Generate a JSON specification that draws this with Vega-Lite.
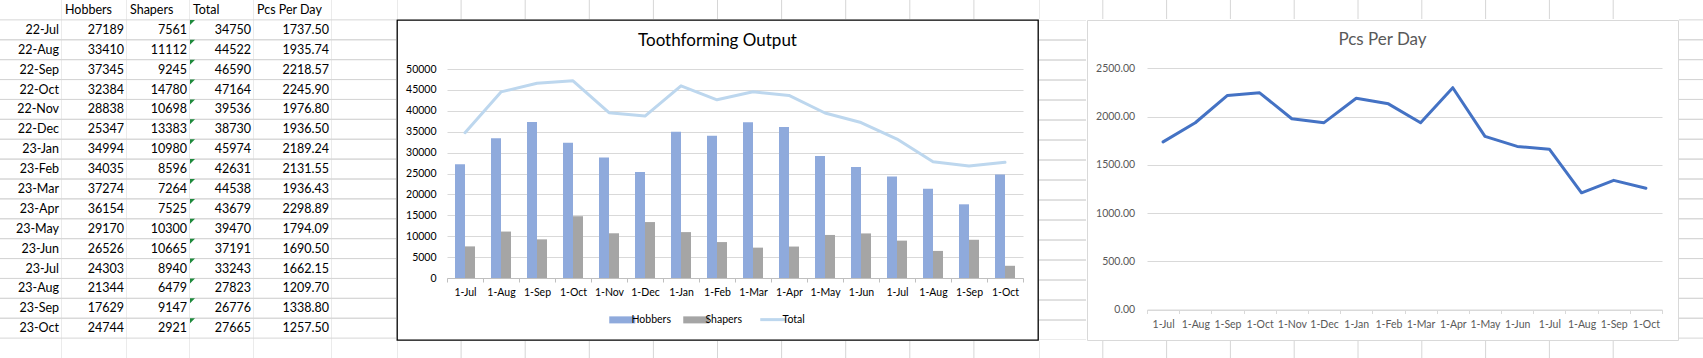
{
  "$schema": "https://vega.github.io/schema/vega-lite/v6.json",
  "padding": 0,
  "background": "#ffffff",
  "datasets": {
    "sheet": [
      {"Month": "22-Jul", "Hobbers": 27189, "Shapers": 7561, "Total": 34750, "PcsPerDay": 1737.50},
      {"Month": "22-Aug", "Hobbers": 33410, "Shapers": 11112, "Total": 44522, "PcsPerDay": 1935.74},
      {"Month": "22-Sep", "Hobbers": 37345, "Shapers": 9245, "Total": 46590, "PcsPerDay": 2218.57},
      {"Month": "22-Oct", "Hobbers": 32384, "Shapers": 14780, "Total": 47164, "PcsPerDay": 2245.90},
      {"Month": "22-Nov", "Hobbers": 28838, "Shapers": 10698, "Total": 39536, "PcsPerDay": 1976.80},
      {"Month": "22-Dec", "Hobbers": 25347, "Shapers": 13383, "Total": 38730, "PcsPerDay": 1936.50},
      {"Month": "23-Jan", "Hobbers": 34994, "Shapers": 10980, "Total": 45974, "PcsPerDay": 2189.24},
      {"Month": "23-Feb", "Hobbers": 34035, "Shapers": 8596, "Total": 42631, "PcsPerDay": 2131.55},
      {"Month": "23-Mar", "Hobbers": 37274, "Shapers": 7264, "Total": 44538, "PcsPerDay": 1936.43},
      {"Month": "23-Apr", "Hobbers": 36154, "Shapers": 7525, "Total": 43679, "PcsPerDay": 2298.89},
      {"Month": "23-May", "Hobbers": 29170, "Shapers": 10300, "Total": 39470, "PcsPerDay": 1794.09},
      {"Month": "23-Jun", "Hobbers": 26526, "Shapers": 10665, "Total": 37191, "PcsPerDay": 1690.50},
      {"Month": "23-Jul", "Hobbers": 24303, "Shapers": 8940, "Total": 33243, "PcsPerDay": 1662.15},
      {"Month": "23-Aug", "Hobbers": 21344, "Shapers": 6479, "Total": 27823, "PcsPerDay": 1209.70},
      {"Month": "23-Sep", "Hobbers": 17629, "Shapers": 9147, "Total": 26776, "PcsPerDay": 1338.80},
      {"Month": "23-Oct", "Hobbers": 24744, "Shapers": 2921, "Total": 27665, "PcsPerDay": 1257.50}
    ],
    "colsG": [{"Column": "G"}, {"Column": "H"}, {"Column": "I"}, {"Column": "J"}, {"Column": "K"}, {"Column": "L"}, {"Column": "M"}, {"Column": "N"}, {"Column": "O"}, {"Column": "P"}],
    "colsQ": [{"Column": "Q"}, {"Column": "R"}, {"Column": "S"}, {"Column": "T"}, {"Column": "U"}, {"Column": "V"}, {"Column": "W"}, {"Column": "X"}, {"Column": "Y"}, {"Column": "Z"}]
  },
  "hconcat": [
    {
      "width": 62, "height": 358,
      "layer": [
        {"data": {"name": "sheet"}, "mark": {"type": "rule", "color": "#d6d6d6", "clip": true},
         "encoding": {"y": {"field": "Month", "type": "ordinal", "bandPosition": 0, "axis": null,
           "scale": {"type": "band", "paddingInner": 0, "paddingOuter": 0, "domain": ["hdr","22-Jul","22-Aug","22-Sep","22-Oct","22-Nov","22-Dec","23-Jan","23-Feb","23-Mar","23-Apr","23-May","23-Jun","23-Jul","23-Aug","23-Sep","23-Oct","blank"]}}}},
        {"data": {"name": "sheet"}, "mark": {"type": "rule", "color": "#d6d6d6", "clip": true},
         "encoding": {"y": {"field": "Month", "type": "ordinal", "bandPosition": 1, "axis": null}}},
        {"data": {"values": [{"Header": ""}]}, "mark": {"type": "rule", "color": "#d6d6d6", "clip": true},
         "encoding": {"x": {"datum": "A", "type": "nominal", "bandPosition": 1, "axis": null, "scale": {"type": "band", "paddingInner": 0, "paddingOuter": 0}}}},
        {"data": {"name": "sheet"}, "mark": {"type": "text", "align": "right", "dx": -3, "fontSize": 12.5, "color": "#000000", "clip": true},
         "encoding": {"x": {"datum": "A", "type": "nominal", "bandPosition": 1, "axis": null},
           "y": {"field": "Month", "type": "ordinal", "axis": null}, "text": {"field": "Month"}}}
      ]
    },
    {
      "width": 65, "height": 358,
      "layer": [
        {"data": {"name": "sheet"}, "mark": {"type": "rule", "color": "#d6d6d6", "clip": true},
         "encoding": {"y": {"field": "Month", "type": "ordinal", "bandPosition": 0, "axis": null,
           "scale": {"type": "band", "paddingInner": 0, "paddingOuter": 0, "domain": ["hdr","22-Jul","22-Aug","22-Sep","22-Oct","22-Nov","22-Dec","23-Jan","23-Feb","23-Mar","23-Apr","23-May","23-Jun","23-Jul","23-Aug","23-Sep","23-Oct","blank"]}}}},
        {"data": {"name": "sheet"}, "mark": {"type": "rule", "color": "#d6d6d6", "clip": true},
         "encoding": {"y": {"field": "Month", "type": "ordinal", "bandPosition": 1, "axis": null}}},
        {"data": {"values": [{"Header": "Hobbers"}]}, "mark": {"type": "rule", "color": "#d6d6d6", "clip": true},
         "encoding": {"x": {"datum": "B", "type": "nominal", "bandPosition": 1, "axis": null, "scale": {"type": "band", "paddingInner": 0, "paddingOuter": 0}}}},
        {"data": {"values": [{"Header": "Hobbers"}]}, "mark": {"type": "text", "align": "left", "dx": 3, "fontSize": 12.5, "color": "#000000", "clip": true},
         "encoding": {"x": {"datum": "B", "type": "nominal", "bandPosition": 0, "axis": null},
           "y": {"datum": "hdr", "type": "ordinal", "axis": null}, "text": {"field": "Header"}}},
        {"data": {"name": "sheet"}, "mark": {"type": "text", "align": "right", "dx": -3, "fontSize": 12.5, "color": "#000000", "clip": true},
         "encoding": {"x": {"datum": "B", "type": "nominal", "bandPosition": 1, "axis": null},
           "y": {"field": "Month", "type": "ordinal", "axis": null}, "text": {"field": "Hobbers", "type": "quantitative", "format": "d"}}}
      ]
    },
    {
      "width": 63, "height": 358,
      "layer": [
        {"data": {"name": "sheet"}, "mark": {"type": "rule", "color": "#d6d6d6", "clip": true},
         "encoding": {"y": {"field": "Month", "type": "ordinal", "bandPosition": 0, "axis": null,
           "scale": {"type": "band", "paddingInner": 0, "paddingOuter": 0, "domain": ["hdr","22-Jul","22-Aug","22-Sep","22-Oct","22-Nov","22-Dec","23-Jan","23-Feb","23-Mar","23-Apr","23-May","23-Jun","23-Jul","23-Aug","23-Sep","23-Oct","blank"]}}}},
        {"data": {"name": "sheet"}, "mark": {"type": "rule", "color": "#d6d6d6", "clip": true},
         "encoding": {"y": {"field": "Month", "type": "ordinal", "bandPosition": 1, "axis": null}}},
        {"data": {"values": [{"Header": "Shapers"}]}, "mark": {"type": "rule", "color": "#d6d6d6", "clip": true},
         "encoding": {"x": {"datum": "C", "type": "nominal", "bandPosition": 1, "axis": null, "scale": {"type": "band", "paddingInner": 0, "paddingOuter": 0}}}},
        {"data": {"values": [{"Header": "Shapers"}]}, "mark": {"type": "text", "align": "left", "dx": 3, "fontSize": 12.5, "color": "#000000", "clip": true},
         "encoding": {"x": {"datum": "C", "type": "nominal", "bandPosition": 0, "axis": null},
           "y": {"datum": "hdr", "type": "ordinal", "axis": null}, "text": {"field": "Header"}}},
        {"data": {"name": "sheet"}, "mark": {"type": "text", "align": "right", "dx": -3, "fontSize": 12.5, "color": "#000000", "clip": true},
         "encoding": {"x": {"datum": "C", "type": "nominal", "bandPosition": 1, "axis": null},
           "y": {"field": "Month", "type": "ordinal", "axis": null}, "text": {"field": "Shapers", "type": "quantitative", "format": "d"}}}
      ]
    },
    {
      "width": 64, "height": 358,
      "layer": [
        {"data": {"name": "sheet"}, "mark": {"type": "rule", "color": "#d6d6d6", "clip": true},
         "encoding": {"y": {"field": "Month", "type": "ordinal", "bandPosition": 0, "axis": null,
           "scale": {"type": "band", "paddingInner": 0, "paddingOuter": 0, "domain": ["hdr","22-Jul","22-Aug","22-Sep","22-Oct","22-Nov","22-Dec","23-Jan","23-Feb","23-Mar","23-Apr","23-May","23-Jun","23-Jul","23-Aug","23-Sep","23-Oct","blank"]}}}},
        {"data": {"name": "sheet"}, "mark": {"type": "rule", "color": "#d6d6d6", "clip": true},
         "encoding": {"y": {"field": "Month", "type": "ordinal", "bandPosition": 1, "axis": null}}},
        {"data": {"values": [{"Header": "Total"}]}, "mark": {"type": "rule", "color": "#d6d6d6", "clip": true},
         "encoding": {"x": {"datum": "D", "type": "nominal", "bandPosition": 1, "axis": null, "scale": {"type": "band", "paddingInner": 0, "paddingOuter": 0}}}},
        {"data": {"values": [{"Header": "Total"}]}, "mark": {"type": "text", "align": "left", "dx": 3, "fontSize": 12.5, "color": "#000000", "clip": true},
         "encoding": {"x": {"datum": "D", "type": "nominal", "bandPosition": 0, "axis": null},
           "y": {"datum": "hdr", "type": "ordinal", "axis": null}, "text": {"field": "Header"}}},
        {"data": {"name": "sheet"}, "mark": {"type": "point", "shape": "M0,0H1L0,1Z", "size": 100, "filled": true, "color": "#1e8a3c", "opacity": 1, "strokeWidth": 0, "clip": true},
         "encoding": {"x": {"datum": "D", "type": "nominal", "bandPosition": 0, "axis": null},
           "y": {"field": "Month", "type": "ordinal", "bandPosition": 0, "axis": null}}},
        {"data": {"name": "sheet"}, "mark": {"type": "text", "align": "right", "dx": -3, "fontSize": 12.5, "color": "#000000", "clip": true},
         "encoding": {"x": {"datum": "D", "type": "nominal", "bandPosition": 1, "axis": null},
           "y": {"field": "Month", "type": "ordinal", "axis": null}, "text": {"field": "Total", "type": "quantitative", "format": "d"}}}
      ]
    },
    {
      "width": 78, "height": 358,
      "layer": [
        {"data": {"name": "sheet"}, "mark": {"type": "rule", "color": "#d6d6d6", "clip": true},
         "encoding": {"y": {"field": "Month", "type": "ordinal", "bandPosition": 0, "axis": null,
           "scale": {"type": "band", "paddingInner": 0, "paddingOuter": 0, "domain": ["hdr","22-Jul","22-Aug","22-Sep","22-Oct","22-Nov","22-Dec","23-Jan","23-Feb","23-Mar","23-Apr","23-May","23-Jun","23-Jul","23-Aug","23-Sep","23-Oct","blank"]}}}},
        {"data": {"name": "sheet"}, "mark": {"type": "rule", "color": "#d6d6d6", "clip": true},
         "encoding": {"y": {"field": "Month", "type": "ordinal", "bandPosition": 1, "axis": null}}},
        {"data": {"values": [{"Header": "Pcs Per Day"}]}, "mark": {"type": "rule", "color": "#d6d6d6", "clip": true},
         "encoding": {"x": {"datum": "E", "type": "nominal", "bandPosition": 1, "axis": null, "scale": {"type": "band", "paddingInner": 0, "paddingOuter": 0}}}},
        {"data": {"values": [{"Header": "Pcs Per Day"}]}, "mark": {"type": "text", "align": "left", "dx": 3, "fontSize": 12.5, "color": "#000000", "clip": true},
         "encoding": {"x": {"datum": "E", "type": "nominal", "bandPosition": 0, "axis": null},
           "y": {"datum": "hdr", "type": "ordinal", "axis": null}, "text": {"field": "Header"}}},
        {"data": {"name": "sheet"}, "mark": {"type": "text", "align": "right", "dx": -3, "fontSize": 12.5, "color": "#000000", "clip": true},
         "encoding": {"x": {"datum": "E", "type": "nominal", "bandPosition": 1, "axis": null},
           "y": {"field": "Month", "type": "ordinal", "axis": null}, "text": {"field": "PcsPerDay", "type": "quantitative", "format": ".2f"}}}
      ]
    },
    {
      "width": 64, "height": 358,
      "layer": [
        {"data": {"name": "sheet"}, "mark": {"type": "rule", "color": "#d6d6d6", "clip": true},
         "encoding": {"y": {"field": "Month", "type": "ordinal", "bandPosition": 0, "axis": null,
           "scale": {"type": "band", "paddingInner": 0, "paddingOuter": 0, "domain": ["hdr","22-Jul","22-Aug","22-Sep","22-Oct","22-Nov","22-Dec","23-Jan","23-Feb","23-Mar","23-Apr","23-May","23-Jun","23-Jul","23-Aug","23-Sep","23-Oct","blank"]}}}},
        {"data": {"name": "sheet"}, "mark": {"type": "rule", "color": "#d6d6d6", "clip": true},
         "encoding": {"y": {"field": "Month", "type": "ordinal", "bandPosition": 1, "axis": null}}}
      ]
    },
    {
      "spacing": 0,
      "resolve": {"scale": {"x": "independent", "y": "independent", "color": "independent"}, "axis": {"x": "independent", "y": "independent"}, "legend": {"color": "independent"}},
      "vconcat": [
        {
          "width": 641, "height": 19,
          "data": {"name": "colsG"},
          "mark": {"type": "rule", "color": "#d6d6d6", "clip": true},
          "encoding": {"x": {"field": "Column", "type": "nominal", "bandPosition": 0,
            "scale": {"type": "band", "paddingInner": 0, "paddingOuter": 0}, "axis": null}}
        },
        {
          "width": 641, "height": 320,
          "view": {"stroke": "#000000", "strokeWidth": 1.3, "fill": "#ffffff"},
          "title": {"text": "Toothforming Output", "fontSize": 17, "font": "Lato", "fontWeight": "normal", "color": "#000000", "anchor": "middle", "frame": "group", "baseline": "middle", "offset": -37.7},
          "data": {"name": "sheet"},
          "layer": [
            {
              "mark": {"type": "bar", "width": {"band": 0.2778}, "xOffset": -5},
              "encoding": {
                "x": {"field": "Month", "type": "ordinal",
                  "scale": {"type": "band", "domain": ["22-Jul","22-Aug","22-Sep","22-Oct","22-Nov","22-Dec","23-Jan","23-Feb","23-Mar","23-Apr","23-May","23-Jun","23-Jul","23-Aug","23-Sep","23-Oct"], "range": [50, 626], "paddingInner": 0, "paddingOuter": 0},
                  "axis": {"orient": "bottom", "offset": -62, "title": null, "labelAngle": 0, "labelExpr": "datum.value ? '1-' + split(datum.value, '-')[1] : ''", "labelFont": "Lato", "labelFontSize": 10.5, "labelColor": "#000000", "labelPadding": 5, "labelOverlap": false, "domainColor": "#bfbfbf", "ticks": true, "tickBand": "extent", "tickSize": 4, "tickColor": "#bfbfbf", "grid": false}},
                "y": {"field": "Hobbers", "type": "quantitative",
                  "scale": {"domain": [0, 50000], "range": [258, 49], "nice": false},
                  "axis": {"orient": "left", "offset": -50, "title": null, "values": [0, 5000, 10000, 15000, 20000, 25000, 30000, 35000, 40000, 45000, 50000], "format": "d", "labelFont": "Lato", "labelFontSize": 10.5, "labelColor": "#000000", "labelAlign": "right", "labelBaseline": "middle", "labelPadding": 11, "labelOverlap": false, "domain": false, "ticks": false, "grid": true, "gridColor": "#d9d9d9"}},
                "color": {"datum": "Hobbers", "type": "nominal",
                  "scale": {"domain": ["Hobbers", "Shapers", "Total"], "range": ["#8faadc", "#a5a5a5", "#bdd7ee"]},
                  "legend": {"orient": "none", "legendX": 220, "legendY": 294, "direction": "horizontal", "title": null, "padding": 0,
                    "symbolType": "M-1,-0.27H1V0.27H-1Z", "symbolSize": 676, "labelOffset": 4, "columnPadding": 12,
                    "labelFont": "Lato", "labelFontSize": 10.5, "labelColor": "#000000",
                    "encode": {"symbols": {"update": {
                      "shape": {"signal": "datum.value === 'Total' ? 'M-1,0H1' : 'M-1,-0.27H1V0.27H-1Z'"},
                      "fill": {"signal": "datum.value === 'Total' ? 'transparent' : (datum.value === 'Hobbers' ? '#8faadc' : '#a5a5a5')"},
                      "stroke": {"signal": "datum.value === 'Total' ? '#bdd7ee' : 'transparent'"},
                      "strokeWidth": {"signal": "datum.value === 'Total' ? 3 : 0"},
                      "opacity": {"value": 1}
                    }}}}}
              }
            },
            {
              "mark": {"type": "bar", "width": {"band": 0.2778}, "xOffset": 5},
              "encoding": {
                "x": {"field": "Month", "type": "ordinal"},
                "y": {"field": "Shapers", "type": "quantitative",
                  "axis": {"orient": "left", "offset": -50, "title": null, "values": [0, 5000, 10000, 15000, 20000, 25000, 30000, 35000, 40000, 45000, 50000], "format": "d", "labelFont": "Lato", "labelFontSize": 10.5, "labelColor": "#000000", "labelAlign": "right", "labelBaseline": "middle", "labelPadding": 11, "labelOverlap": false, "domain": false, "ticks": false, "grid": true, "gridColor": "#d9d9d9"}},
                "color": {"datum": "Shapers", "type": "nominal"}
              }
            },
            {
              "mark": {"type": "line", "strokeWidth": 3, "strokeJoin": "round", "strokeCap": "round"},
              "encoding": {
                "x": {"field": "Month", "type": "ordinal"},
                "y": {"field": "Total", "type": "quantitative",
                  "axis": {"orient": "left", "offset": -50, "title": null, "values": [0, 5000, 10000, 15000, 20000, 25000, 30000, 35000, 40000, 45000, 50000], "format": "d", "labelFont": "Lato", "labelFontSize": 10.5, "labelColor": "#000000", "labelAlign": "right", "labelBaseline": "middle", "labelPadding": 11, "labelOverlap": false, "domain": false, "ticks": false, "grid": true, "gridColor": "#d9d9d9"}},
                "color": {"datum": "Total", "type": "nominal"}
              }
            }
          ]
        },
        {
          "width": 641, "height": 17,
          "data": {"name": "colsG"},
          "mark": {"type": "rule", "color": "#d6d6d6", "clip": true},
          "encoding": {"x": {"field": "Column", "type": "nominal", "bandPosition": 0,
            "scale": {"type": "band", "paddingInner": 0, "paddingOuter": 0}, "axis": null}}
        }
      ]
    },
    {
      "spacing": 0,
      "resolve": {"scale": {"x": "independent", "y": "independent"}, "axis": {"x": "independent", "y": "independent"}},
      "vconcat": [
        {
          "width": 638, "height": 19,
          "data": {"name": "colsQ"},
          "mark": {"type": "rule", "color": "#d6d6d6", "clip": true},
          "encoding": {"x": {"field": "Column", "type": "nominal", "bandPosition": 0,
            "scale": {"type": "band", "paddingInner": 0, "paddingOuter": 0}, "axis": null}}
        },
        {
          "spacing": 0,
          "resolve": {"scale": {"x": "independent", "y": "independent"}, "axis": {"x": "independent", "y": "independent"}},
          "hconcat": [
            {
              "width": 47, "height": 320,
              "data": {"name": "sheet"},
              "layer": [
                {"mark": {"type": "rule", "color": "#d6d6d6", "clip": true},
                 "encoding": {"y": {"field": "Month", "type": "ordinal", "bandPosition": 0, "axis": null,
                   "scale": {"type": "band", "paddingInner": 0, "paddingOuter": 0, "domain": ["22-Jul","22-Aug","22-Sep","22-Oct","22-Nov","22-Dec","23-Jan","23-Feb","23-Mar","23-Apr","23-May","23-Jun","23-Jul","23-Aug","23-Sep","23-Oct"]}}}},
                {"mark": {"type": "rule", "color": "#d6d6d6", "clip": true},
                 "encoding": {"y": {"field": "Month", "type": "ordinal", "bandPosition": 1, "axis": null}}}
              ]
            },
            {
              "width": 591, "height": 320,
              "view": {"stroke": "#d9d9d9", "strokeWidth": 1, "fill": "#ffffff"},
              "title": {"text": "Pcs Per Day", "fontSize": 17, "font": "Lato", "fontWeight": "normal", "color": "#595959", "anchor": "middle", "frame": "group", "baseline": "middle", "offset": -37.2},
              "data": {"name": "sheet"},
              "mark": {"type": "line", "color": "#4472c4", "strokeWidth": 3, "strokeJoin": "round", "strokeCap": "round"},
              "encoding": {
                "x": {"field": "Month", "type": "ordinal",
                  "scale": {"type": "band", "domain": ["22-Jul","22-Aug","22-Sep","22-Oct","22-Nov","22-Dec","23-Jan","23-Feb","23-Mar","23-Apr","23-May","23-Jun","23-Jul","23-Aug","23-Sep","23-Oct"], "range": [60, 575], "paddingInner": 0, "paddingOuter": 0},
                  "axis": {"orient": "bottom", "offset": -30.5, "title": null, "labelAngle": 0, "labelExpr": "datum.value ? '1-' + split(datum.value, '-')[1] : ''", "labelFont": "Lato", "labelFontSize": 10.5, "labelColor": "#595959", "labelPadding": 5.5, "labelOverlap": false, "domainColor": "#d9d9d9", "ticks": true, "tickBand": "extent", "tickSize": 4, "tickColor": "#d9d9d9", "grid": false}},
                "y": {"field": "PcsPerDay", "type": "quantitative",
                  "scale": {"domain": [0, 2500], "range": [289.5, 48.3], "nice": false},
                  "axis": {"orient": "left", "offset": -60, "title": null, "values": [0, 500, 1000, 1500, 2000, 2500], "format": ".2f", "labelFont": "Lato", "labelFontSize": 10.5, "labelColor": "#595959", "labelAlign": "right", "labelBaseline": "middle", "labelPadding": 12.4, "labelOverlap": false, "domain": false, "ticks": false, "grid": true, "gridColor": "#d9d9d9"}}
              }
            }
          ]
        },
        {
          "width": 638, "height": 17,
          "data": {"name": "colsQ"},
          "mark": {"type": "rule", "color": "#d6d6d6", "clip": true},
          "encoding": {"x": {"field": "Column", "type": "nominal", "bandPosition": 0,
            "scale": {"type": "band", "paddingInner": 0, "paddingOuter": 0}, "axis": null}}
        }
      ]
    },
    {
      "width": 24, "height": 358,
      "layer": [
        {"data": {"name": "sheet"}, "mark": {"type": "rule", "color": "#d6d6d6", "clip": true},
         "encoding": {"y": {"field": "Month", "type": "ordinal", "bandPosition": 0, "axis": null,
           "scale": {"type": "band", "paddingInner": 0, "paddingOuter": 0, "domain": ["hdr","22-Jul","22-Aug","22-Sep","22-Oct","22-Nov","22-Dec","23-Jan","23-Feb","23-Mar","23-Apr","23-May","23-Jun","23-Jul","23-Aug","23-Sep","23-Oct","blank"]}}}},
        {"data": {"name": "sheet"}, "mark": {"type": "rule", "color": "#d6d6d6", "clip": true},
         "encoding": {"y": {"field": "Month", "type": "ordinal", "bandPosition": 1, "axis": null}}}
      ]
    }
  ],
  "spacing": 0,
  "resolve": {"scale": {"x": "independent", "y": "independent", "color": "independent"}, "axis": {"x": "independent", "y": "independent"}, "legend": {"color": "independent"}},
  "config": {
    "view": {"stroke": null},
    "font": "Lato",
    "text": {"font": "Lato"},
    "axis": {"labelFont": "Lato", "titleFont": "Lato"},
    "legend": {"labelFont": "Lato"}
  }
}
